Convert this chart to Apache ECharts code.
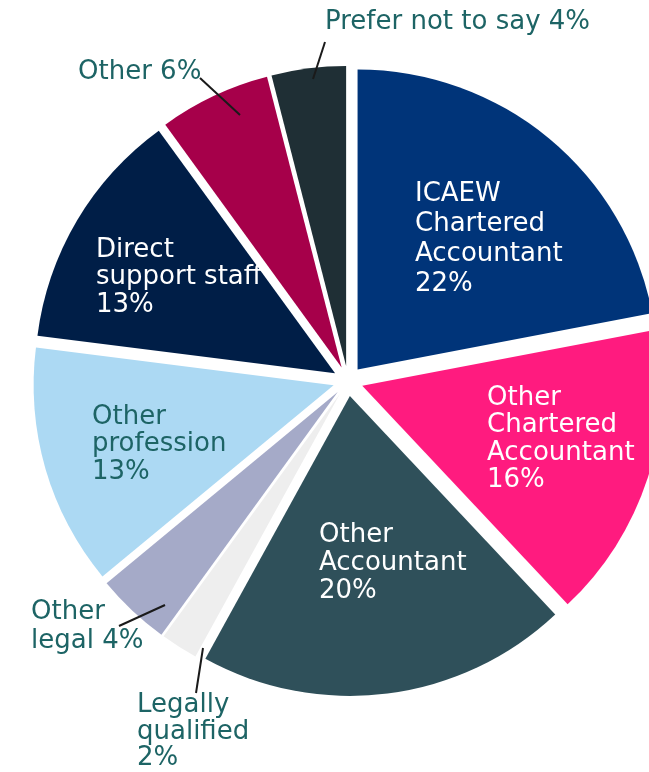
<!DOCTYPE html>
<html>
<head>
<meta charset="utf-8">
<script src="https://cdn.jsdelivr.net/npm/echarts@6/dist/echarts.min.js"></script>
<style>
  html, body { margin: 0; padding: 0; background: #fff; }
  #chart { width: 649px; height: 772px; }
</style>
</head>
<body>
<div id="chart"></div>
<script>
// Data
const categories = [
  'ICAEW Chartered Accountant', 'Other Chartered Accountant', 'Other Accountant',
  'Legally qualified', 'Other legal', 'Other profession',
  'Direct support staff', 'Other', 'Prefer not to say'
];
const shares = [22, 16, 20, 2, 4, 13, 13, 6, 4];
const labelTexts = [
  'ICAEW\nChartered\nAccountant\n22%', 'Other\nChartered\nAccountant\n16%', 'Other\nAccountant\n20%',
  'Legally\nqualified\n2%', 'Other\nlegal 4%', 'Other\nprofession\n13%',
  'Direct\nsupport staff\n13%', 'Other 6%', 'Prefer not to say 4%'
];
const colors = ['#003479', '#ff1b7f', '#2f505a', '#eeeeee', '#a5aac8', '#acd9f3', '#001e47', '#a6004a', '#1f2f35'];
const inside = [true, true, true, false, false, true, true, false, false];

// label placement (left/top of text block) and leader lines
const labelBox = [
  { x: 415, y: 179, lh: 30 }, { x: 487, y: 384, lh: 27.5 }, { x: 319, y: 521, lh: 28 },
  { x: 137, y: 692, lh: 26.5 }, { x: 31, y: 598, lh: 29 }, { x: 92, y: 403, lh: 27.5 },
  { x: 96, y: 236, lh: 27.5 }, { x: 78, y: 58, lh: 28 }, { x: 325, y: 8, lh: 28 }
];
const leaders = {
  3: [[203, 648], [196, 693]],
  4: [[165, 605], [119, 626]],
  7: [[240, 115], [200, 78]],
  8: [[313, 79], [325, 42]]
};

const teal = '#1d6465';
const center = [348, 381];
const radius = 300;
const chart = echarts.init(document.getElementById('chart'));

// visible slices, all pulled out from the centre
const sliceData = categories.map((name, i) => ({
  name: name,
  value: shares[i],
  selected: true,
  itemStyle: { color: colors[i] }
}));

// invisible copy that only carries the labels
const labelData = categories.map((name, i) => ({
  name: name,
  value: shares[i],
  itemStyle: { color: 'rgba(0,0,0,0)' },
  label: {
    show: true,
    formatter: labelTexts[i],
    color: inside[i] && i !== 5 ? '#ffffff' : teal,
    lineHeight: labelBox[i].lh
  },
  labelLine: { show: !inside[i], length: 10, length2: 0 }
}));

chart.setOption({
  animation: false,
  series: [{
    type: 'pie',
    z: 2,
    center: center,
    radius: radius,
    startAngle: 90,
    selectedMode: 'multiple',
    selectedOffset: 15,
    silent: true,
    label: { show: false },
    labelLine: { show: false },
    data: sliceData
  }, {
    type: 'pie',
    z: 5,
    center: center,
    radius: radius,
    startAngle: 90,
    silent: true,
    avoidLabelOverlap: false,
    label: {
      position: 'outside',
      fontFamily: 'DejaVu Sans',
      fontSize: 26,
      align: 'left'
    },
    labelLine: {
      lineStyle: { color: '#1a1a1a', width: 2 }
    },
    labelLayout: function (params) {
      const i = params.dataIndex;
      const box = labelBox[i];
      const out = { x: box.x, y: box.y, align: 'left', verticalAlign: 'top' };
      if (leaders[i]) out.labelLinePoints = leaders[i];
      return out;
    },
    data: labelData
  }]
});
</script>
</body>
</html>
